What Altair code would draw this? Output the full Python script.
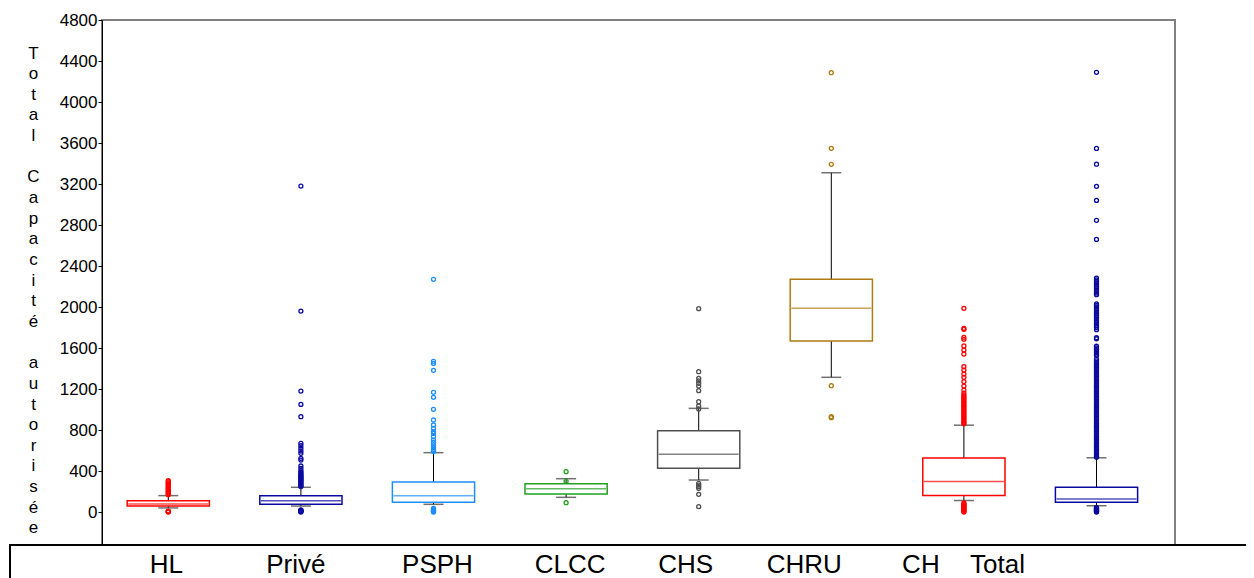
import altair as alt
import pandas as pd

categories = ["HL", "Privé", "PSPH", "CLCC", "CHS", "CHRU", "CH", "Total"]
q1 = [58, 75, 94, 176, 426, 1668, 160, 96]
median = [78, 110, 159, 228, 563, 1987, 298, 128]
q3 = [110, 159, 293, 276, 793, 2270, 526, 242]
whisker_low = [40, 58, 75, 143, 312, 1314, 112, 61]
whisker_high = [160, 241, 579, 325, 1011, 3310, 847, 529]
colors = ["#FF0000", "#0A0AA0", "#1E8FFF", "#22A022", "#505050", "#B07A12", "#FF0000", "#0A0AA0"]

hl_out = [305, 295, 285, 275, 265, 255, 245, 235, 225, 215, 205, 195, 185, 175, 168, 0, 3, 6, 9]
prive_out = [3180, 1960, 1180, 1050, 930, 670, 647, 621, 595, 572, 524, 507, 449, 426, 403, 390,
             377, 365, 355, 345, 335, 325, 315, 305, 295, 285, 275, 265, 255, 248,
             0, 4, 8, 12, 16, 20]
psph_out = [2270, 1470, 1450, 1382, 1168, 1119, 1002, 898, 849, 816, 784, 767, 735, 702, 680,
            654, 630, 611, 600, 590, 0, 4, 8, 14, 20, 28, 36]
clcc_out = [393, 299, 91]
chs_out = [1984, 1369, 1304, 1280, 1255, 1229, 1184, 1076, 1034, 1005, 280, 263, 247, 231, 172, 52]
chru_out = [4286, 3548, 3392, 1232, 930, 920]
ch_out = [1987, 1792, 1782, 1704, 1685, 1620, 1580, 1541, 1418, 1385, 1346, 1314, 1272, 1229,
          1190, 1160, 1141, 1125, 1110, 1095, 1080, 1065, 1050, 1035, 1020, 1005, 990, 975, 960,
          945, 930, 915, 900, 885, 870, 860, 0, 8, 16, 24, 32, 40, 48, 56, 64, 72, 80, 88]
total_out = [4290, 3547, 3393, 3177, 3040, 2846, 2659,
             2282, 2265, 2250, 2232, 2215, 2200, 2185, 2168, 2150, 2135, 2120,
             2030, 2015, 2000, 1985, 1968, 1950, 1935, 1918, 1900, 1885, 1868, 1850, 1835,
             1818, 1800, 1779, 1700, 1690,
             1617, 1600, 1585, 1570, 1555, 1540, 1528,
             1491, 1475, 1460, 1445, 1430, 1415, 1400, 1385, 1370, 1355, 1340, 1325, 1310,
             1295, 1280, 1265, 1250, 1235, 1220, 1205, 1190, 1175, 1160, 1145, 1130, 1115,
             1100, 1085, 1070, 1055, 1040, 1025, 1010, 995, 980, 965, 950, 935, 920, 905,
             890, 875, 860, 845, 830, 815, 800, 785, 770, 755, 740, 725, 710, 695, 680, 665,
             650, 635, 620, 605, 590, 575, 560, 545, 535,
             0, 5, 10, 15, 20, 25, 30, 35, 40, 45]
outlier_lists = [hl_out, prive_out, psph_out, clcc_out, chs_out, chru_out, ch_out, total_out]

y_ticks = [-400, 0, 400, 800, 1200, 1600, 2000, 2400, 2800, 3200, 3600, 4000, 4400, 4800]
BLANK = "\u2800"
y_title = ["T", "o", "t", "a", "l", BLANK, "C", "a", "p", "a", "c", "i", "t", "é", BLANK,
           "a", "u", "t", "o", "r", "i", "s", "é", "e"]

box_df = pd.DataFrame({"cat": categories, "q1": q1, "med": median, "q3": q3,
                       "lo": whisker_low, "hi": whisker_high})
out_df = pd.DataFrame([{"cat": c, "value": v} for c, vals in zip(categories, outlier_lists) for v in vals])

FONT = "Liberation Sans, Arial, sans-serif"
label_shift = {"HL": -2, "Privé": -5, "PSPH": 4, "CLCC": 4, "CHS": -13, "CHRU": -27, "CH": -43, "Total": -99}
label_offset = {"condition": [{"test": f"datum.value === '{k}'", "value": v} for k, v in label_shift.items()],
                "value": 0}

xscale = alt.Scale(domain=categories, paddingInner=0, paddingOuter=0.046, align=0)
X = alt.X("cat:N", scale=xscale, sort=categories,
          axis=alt.Axis(title=None, domain=False, ticks=False, tickSize=0, labelAngle=0,
                        labelFontSize=26, labelFont=FONT, labelColor="black", labelPadding=-2,
                        labelOffset=label_offset, zindex=1))
yscale = alt.Scale(domain=[-400, 4800], nice=False, zero=False)
yaxis = alt.Axis(values=y_ticks, format="d", grid=False, domainColor="black", domainWidth=1,
                 tickColor="black", tickSize=4, labelPadding=1, labelFontSize=17, labelFont=FONT,
                 labelColor="black", title=y_title, titleAngle=0, titleFontSize=17, titleFont=FONT,
                 titleFontWeight="normal", titleColor="black", titleLineHeight=20.65,
                 titleAlign="center", titleBaseline="middle", titleX=-69, titleY=33)
cscale = alt.Scale(domain=categories, range=colors)

base = alt.Chart(box_df)
whisk = base.mark_rule(color="black", strokeWidth=1).encode(
    x=X, y=alt.Y("lo:Q", scale=yscale, axis=yaxis), y2="hi:Q")
box = base.mark_bar(fill="white", strokeWidth=1.5, width=alt.RelativeBandSize(0.62)).encode(
    x=X, y="q1:Q", y2="q3:Q", stroke=alt.Stroke("cat:N", scale=cscale, legend=None))
med = base.mark_tick(size=80, thickness=1.5).encode(
    x=X, y="med:Q", color=alt.Color("cat:N", scale=cscale, legend=None))
caps = base.transform_fold(["lo", "hi"], as_=["k", "v"]).mark_tick(
    size=20, thickness=1.5, color="#333333").encode(x=X, y="v:Q")
pts = alt.Chart(out_df).mark_point(shape="circle", filled=False, size=16, strokeWidth=1.3, opacity=1).encode(
    x=X, y="value:Q", color=alt.Color("cat:N", scale=cscale, legend=None))
cover = alt.Chart(alt.Data(values=[{}])).mark_rect(fill="white", stroke="black", strokeWidth=2).encode(
    x=alt.value(-92), x2=alt.value(1250), y=alt.value(525), y2=alt.value(640))

chart = alt.layer(whisk, box, med, caps, pts, cover).properties(
    width=1073, height=533,
    padding={"left": 94, "top": 12, "right": 71, "bottom": 25},
    autosize=alt.AutoSizeParams(type="none"),
    view=alt.ViewBackground(stroke="#808080", strokeWidth=2),
).configure_view(stroke="#808080", strokeWidth=2).configure(background="white")

chart.save("out.html", embed_options={"renderer": "svg", "actions": False})
